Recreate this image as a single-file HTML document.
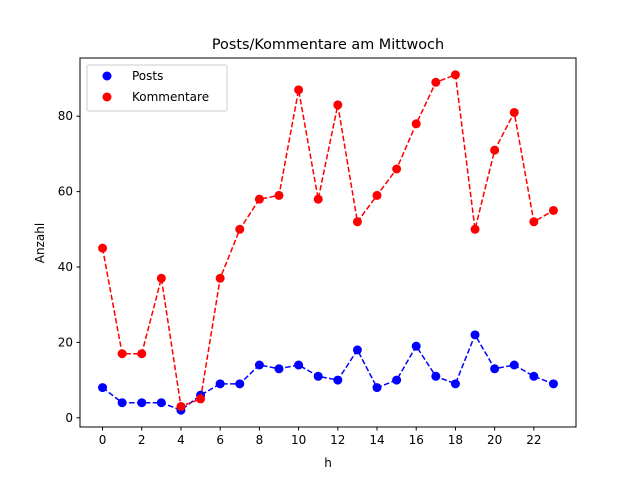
<!DOCTYPE html>
<html><head><meta charset="utf-8"><style>body{margin:0;background:#fff}svg{font-family:"DejaVu Sans","Liberation Sans",sans-serif}</style></head>
<body>
<svg id="chart" width="640" height="480" xmlns="http://www.w3.org/2000/svg">
<rect width="640" height="480" fill="#fff"/>
<text x="328" y="49" font-size="14.4" text-anchor="middle">Posts/Kommentare am Mittwoch</text>
<g id="plot"></g>
<rect x="80" y="58" width="496" height="369" fill="none" stroke="#000" stroke-width="1"/>
<text x="328" y="467" font-size="12" text-anchor="middle">h</text>
<text transform="translate(44,243) rotate(-90)" font-size="12" text-anchor="middle">Anzahl</text>
<g>
<rect x="87" y="65" width="140" height="46" fill="#fff" fill-opacity="0.8" stroke="#ccc" rx="2"/>
<circle cx="107" cy="76" r="4.5" fill="blue"/>
<text x="132" y="80" font-size="12">Posts</text>
<circle cx="107" cy="97" r="4.5" fill="red"/>
<text x="132" y="101" font-size="12">Kommentare</text>
</g>
</svg>
<script>
const hours=[0,1,2,3,4,5,6,7,8,9,10,11,12,13,14,15,16,17,18,19,20,21,22,23];
const posts=[8,4,4,4,2,6,9,9,14,13,14,11,10,18,8,10,19,11,9,22,13,14,11,9];
const kommentare=[45,17,17,37,3,5,37,50,58,59,87,58,83,52,59,66,78,89,91,50,71,81,52,55];
const xTicks=[0,2,4,6,8,10,12,14,16,18,20,22];
const yTicks=[0,20,40,60,80];
const X0=80,X1=576,Y0=58,Y1=427;
const xmin=-1.15,xmax=24.15,ymin=-2.45,ymax=95.45;
function sx(v){return X0+(v-xmin)/(xmax-xmin)*(X1-X0);}
function sy(v){return Y1-(v-ymin)/(ymax-ymin)*(Y1-Y0);}
const ns="http://www.w3.org/2000/svg",g=document.getElementById('plot');
function mk(t,a){const e=document.createElementNS(ns,t);for(const k in a)e.setAttribute(k,a[k]);g.appendChild(e);return e;}
xTicks.forEach(t=>{const x=sx(t);
const l=mk('line',{x1:x,x2:x,y1:Y1,y2:Y1+3.5,stroke:'#000'});


const tx=mk('text',{x:x,y:Y1+17,'font-size':12,'text-anchor':'middle'});tx.textContent=t;

});
yTicks.forEach(t=>{const y=sy(t);
const l=mk('line',{x1:X0-3.5,x2:X0,y1:y,y2:y,stroke:'#000'});


const tx=mk('text',{x:X0-7,y:y+4,'font-size':12,'text-anchor':'end'});tx.textContent=t;

});
function series(vals,col,name){
const p=mk('polyline',{points:vals.map((v,i)=>sx(hours[i])+','+sy(v)).join(' '),fill:'none',stroke:col,'stroke-width':1.5,'stroke-dasharray':'5.5,2.4'});


vals.forEach((v,i)=>{const c=mk('circle',{cx:sx(hours[i]),cy:sy(v),r:4.5,fill:col});

});}
series(posts,'blue','posts');
series(kommentare,'red','kommentare');
</script>
</body></html>
